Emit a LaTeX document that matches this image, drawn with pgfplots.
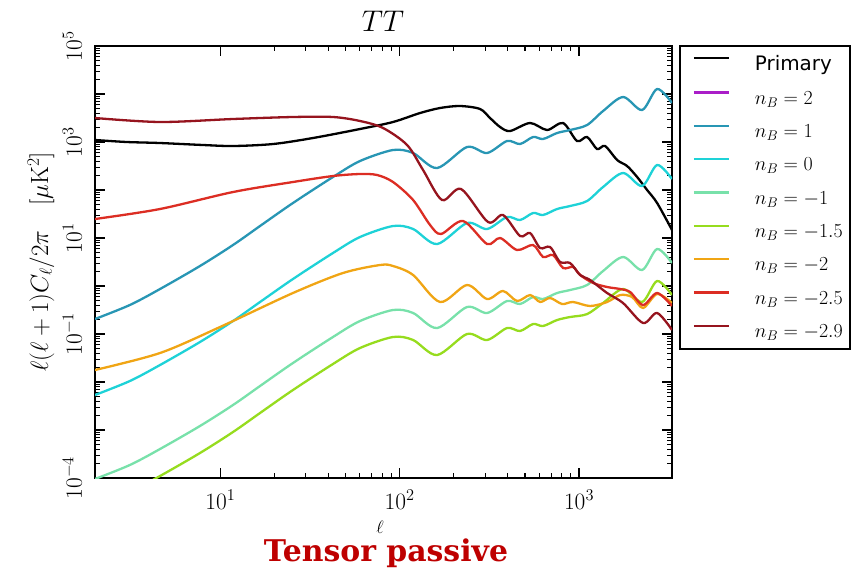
\RequirePackage{fix-cm}
\documentclass[border=0pt]{standalone}
\usepackage{fontspec}
\usepackage{pgfplots}
\pgfplotsset{compat=1.18}
\newfontfamily\dejavu{DejaVu Sans}
\newfontfamily\tpfont{DejaVu Serif}
\definecolor{cB2}{RGB}{170,30,200}
\definecolor{cB1}{RGB}{40,150,180}
\definecolor{cB0}{RGB}{30,210,215}
\definecolor{cBm1}{RGB}{120,225,170}
\definecolor{cBm15}{RGB}{150,220,30}
\definecolor{cBm2}{RGB}{240,165,20}
\definecolor{cBm25}{RGB}{220,45,35}
\definecolor{cBm29}{RGB}{150,20,30}
\definecolor{tpred}{RGB}{190,0,0}
\begin{document}
\begin{tikzpicture}
\path (-95bp,-91bp) rectangle (769bp,478bp);
\begin{axis}[
 at={(0,0)}, anchor=south west,
 width=577bp, height=432bp, scale only axis,
 xmode=log, ymode=log,
 xmin=2, xmax=3300, ymin=1e-4, ymax=1e5,
 ytick={1e-4,1e-3,1e-2,1e-1,1,1e1,1e2,1e3,1e4,1e5},
 yticklabels={$10^{-4}$,,,$10^{-1}$,,$10^{1}$,,$10^{3}$,,$10^{5}$},
 xtick={10,100,1000},
 xticklabels={$10^{1}$,$10^{2}$,$10^{3}$},
 tick pos=both,
 tick align=inside,
 major tick length=10bp, minor tick length=5bp,
 every tick/.style={black, line width=1.1bp},
 axis line style={line width=1.8bp},
 tick label style={font=\fontsize{23.5}{23.5}\selectfont},
 xticklabel style={anchor=base, inner sep=0pt, yshift=-31bp},
 yticklabel style={xshift=-13bp, rotate=90, anchor=south, inner sep=0pt},
 legend style={at={(1.01213,1.00231)}, anchor=north west, draw=black, line width=1.6bp,
   font=\fontsize{20}{20}\selectfont, inner xsep=5bp, inner ysep=8bp, row sep=15bp, column sep=23bp},
 legend cell align=left,
 legend image code/.code={\path[draw=none,fill=none] (0bp,6bp) -- (9bp,6bp); \draw[#1, line width=2.2bp] (9bp,6bp) -- (44bp,6bp);},
 every axis plot/.append style={line width=2.3bp, smooth, tension=0.5},
]
\addplot[black] coordinates {(2,1101) (3,1000) (4.6,953) (8,866) (11.8,825) (19.7,908) (32.9,1212) (60.1,1866) (91.8,2610) (129.9,4019) (168,5109) (217,5623) (280.7,4870) (319,3162) (362.9,2054) (412.7,1695) (533.5,2488) (663.5,1778) (815,2488) (975,1049) (1109,1271) (1261,715) (1397,825) (1631,422) (1854,316) (2108,187) (2397,100) (2726,53.6) (3300,14.7)};
\addlegendentry{\dejavu Primary}
\addlegendimage{color=cB2, line width=2.2bp}
\addlegendentry{$n_B=2$}
\addplot[cB1] coordinates {(2,0.2054) (3.13,0.402) (4.61,0.866) (7.70,2.61) (11.77,7.15) (16.65,17.8) (25.4,53.6) (42.5,187) (60.1,402) (91.8,681) (118.8,590) (161.6,287) (237.5,787) (307.1,590) (397,1049) (469.1,908) (554.4,1271) (630.4,1155) (754.6,1540) (891.8,1778) (1109,2260) (1362,4424) (1761,8660) (2248,4642) (2726,12710) (3300,6494)};
\addlegendentry{$n_B=1$}
\addplot[cB0] coordinates {(2,0.00536) (3.13,0.01049) (4.61,0.0226) (7.70,0.0681) (11.77,0.1866) (16.65,0.4646) (25.4,1.399) (42.5,4.88) (60.1,10.49) (91.8,17.77) (118.8,15.40) (161.6,7.49) (237.5,20.54) (307.1,15.40) (397,27.38) (469.1,23.70) (554.4,33.17) (630.4,30.15) (754.6,40.19) (891.8,46.41) (1109,58.99) (1362,115.5) (1761,226.0) (2248,121.2) (2726,331.7) (3300,169.5)};
\addlegendentry{$n_B=0$}
\addplot[cBm1] coordinates {(2,9.53e-5) (3.13,1.866e-4) (4.61,4.02e-4) (7.70,1.212e-3) (11.77,3.319e-3) (16.65,8.26e-3) (25.4,0.02488) (42.5,0.0868) (60.1,0.1866) (91.8,0.3161) (118.8,0.2739) (161.6,0.1332) (237.5,0.3653) (307.1,0.2739) (397,0.4869) (469.1,0.4215) (554.4,0.590) (630.4,0.5361) (754.6,0.7149) (891.8,0.8253) (1109,1.049) (1362,2.054) (1761,4.020) (2248,2.155) (2726,5.90) (3300,3.014)};
\addlegendentry{$n_B=-1$}
\addplot[cBm15] coordinates {(2,2.61e-5) (3.13,5.11e-5) (4.61,1.101e-4) (7.70,3.317e-4) (11.77,9.09e-4) (16.65,2.262e-3) (25.4,6.81e-3) (42.5,0.02377) (60.1,0.0511) (91.8,0.0866) (118.8,0.0750) (161.6,0.03648) (237.5,0.1000) (307.1,0.0750) (397,0.1333) (469.1,0.1154) (554.4,0.1615) (630.4,0.1468) (754.6,0.1957) (891.8,0.2260) (1109,0.260) (1362,0.4424) (1761,0.866) (2248,0.4642) (2726,1.271) (3300,0.6494)};
\addlegendentry{$n_B=-1.5$}
\addplot[cBm2] coordinates {(2,0.01778) (4.61,0.0402) (9.96,0.1399) (25.4,0.7148) (48.3,1.866) (77.7,2.738) (91.8,2.61) (118.8,1.695) (168,0.4642) (237.5,1.049) (307.1,0.536) (377.1,0.787) (451.4,0.487) (533.5,0.649) (606.6,0.4642) (689.6,0.5623) (804.7,0.4217) (926.8,0.4642) (1153,0.383) (1434,0.4642) (1695,0.649) (1977,0.590) (2277,0.348) (2726,0.681) (3300,0.4424)};
\addlegendentry{$n_B=-2$}
\addplot[cBm25] coordinates {(2,24.87) (4.61,40.2) (11.77,90.8) (25.4,146.8) (42.5,195.7) (60.1,215.4) (74.8,205.4) (91.8,146.8) (118.8,61.9) (147.7,18.66) (170.1,12.12) (225.6,22.6) (307.1,7.50) (362.9,10.0) (451.4,5.62) (554.4,7.15) (630.4,4.02) (716.8,4.42) (815.2,2.371) (926.8,2.488) (1014,1.695) (1198,1.155) (1434,0.953) (1695,0.866) (1927,0.75) (2277,0.402) (2726,0.715) (3300,0.383)};
\addlegendentry{$n_B=-2.5$}
\addplot[cBm29] coordinates {(2,3162) (4.61,2610) (11.77,3014) (25.4,3318) (42.5,3318) (60.1,2738) (80.8,1957) (110,866) (135,261) (172.3,61.9) (220,104.9) (311,21.5) (377.1,30.1) (469.1,11.0) (533.5,12.7) (606.6,6.19) (689.6,6.49) (784.3,3.162) (891.8,3.014) (1014,1.695) (1153,1.334) (1434,0.715) (1761,0.442) (2277,0.1695) (2726,0.274) (3300,0.1212)};
\addlegendentry{$n_B=-2.9$}
\end{axis}
\node[anchor=base, font=\fontsize{30}{30}\selectfont] at (288bp,446bp) {$TT$};
\node[rotate=90, font=\fontsize{25}{25}\selectfont] at (-54bp,216bp) {$\ell(\ell+1)C_\ell/2\pi\quad[\mu\mathrm{K}^2]$};
\node[anchor=base, inner sep=0pt] at (285bp,-55bp) {\fontsize{18}{18}\selectfont$\ell$};
\node[anchor=base, text=tpred, font=\tpfont\bfseries\fontsize{30}{30}\selectfont] at (291bp,-83bp) {Tensor passive};
\end{tikzpicture}
\end{document}
